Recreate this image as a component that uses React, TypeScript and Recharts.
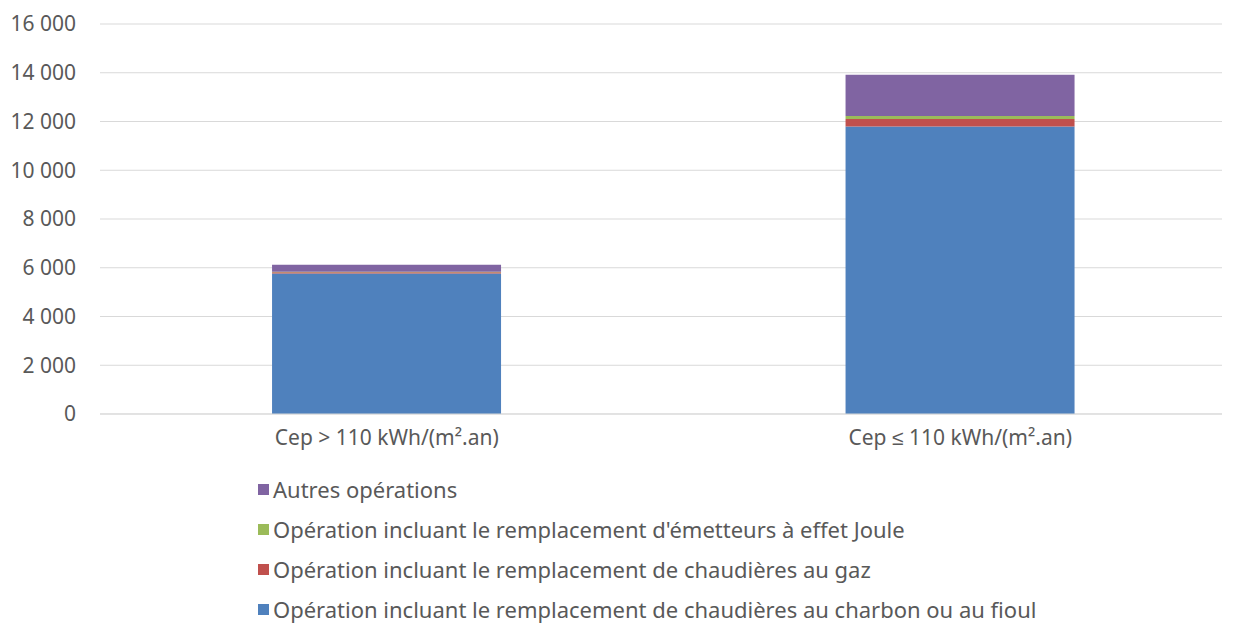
import { Bar, BarChart, CartesianGrid, Legend, XAxis, YAxis } from "recharts";

const categories = ["Cep > 110 kWh/(m².an)", "Cep ≤ 110 kWh/(m².an)"];
const charbonFioul = [5760, 11790];
const chaudieresGaz = [60, 310];
const effetJoule = [20, 125];
const autres = [280, 1695];
const yTicks = [0, 2000, 4000, 6000, 8000, 10000, 12000, 14000, 16000];

const series = [
  { key: "charbon", name: "Opération incluant le remplacement de chaudières au charbon ou au fioul", color: "#4f81bd" },
  { key: "gaz", name: "Opération incluant le remplacement de chaudières au gaz", color: "#c0504d" },
  { key: "joule", name: "Opération incluant le remplacement d'émetteurs à effet Joule", color: "#9bbb59" },
  { key: "autres", name: "Autres opérations", color: "#8064a2" },
];

const data = categories.map((name, i) => ({
  name,
  charbon: charbonFioul[i],
  gaz: chaudieresGaz[i],
  joule: effetJoule[i],
  autres: autres[i],
}));

const FONT = "'Noto Sans', sans-serif";
const SIZE = 21;
const TEXT = "#595959";

// thousands with a space, french style
const fmt = (v: number) => String(v).replace(/\B(?=(\d{3})+(?!\d))/g, " ");

// legend lists series top of stack first, like the original
function LegendList() {
  const items = [...series].reverse();
  return (
    <div style={{ paddingLeft: 258 }}>
      {items.map((s) => (
        <div key={s.key} style={{ display: "flex", alignItems: "center", height: 40, fontFamily: FONT, fontSize: 22, color: TEXT, whiteSpace: "nowrap" }}>
          <span style={{ width: 11, height: 11, background: s.color, display: "inline-block", marginRight: 4 }} />
          <span>{s.name}</span>
        </div>
      ))}
    </div>
  );
}

export default function App() {
  return (
    <div style={{ position: "absolute", left: 0, top: 0, width: 1234, height: 632, background: "#fff" }}>
      <BarChart
        width={1234}
        height={632}
        data={data}
        margin={{ top: 24, right: 12, left: 0, bottom: 0 }}
        barCategoryGap="30%"
      >
        <CartesianGrid vertical={false} stroke="#d9d9d9" />
        <XAxis
          dataKey="name"
          height={36}
          padding={{ left: 0, right: -25 }}
          tickLine={false}
          axisLine={{ stroke: "#d9d9d9" }}
          tickMargin={10}
          tick={{ fill: TEXT, fontFamily: FONT, fontSize: SIZE }}
        />
        <YAxis
          width={100}
          domain={[0, 16000]}
          ticks={yTicks}
          tickFormatter={fmt}
          tickLine={false}
          axisLine={false}
          tickMargin={18}
          tick={{ fill: TEXT, fontFamily: FONT, fontSize: SIZE }}
        />
        <Legend
          verticalAlign="bottom"
          height={182}
          content={LegendList}
          wrapperStyle={{ left: 0, top: 469, width: 1234 }}
        />
        {series.map((s) => (
          <Bar key={s.key} dataKey={s.key} name={s.name} stackId="a" fill={s.color} isAnimationActive={false} />
        ))}
      </BarChart>
    </div>
  );
}
